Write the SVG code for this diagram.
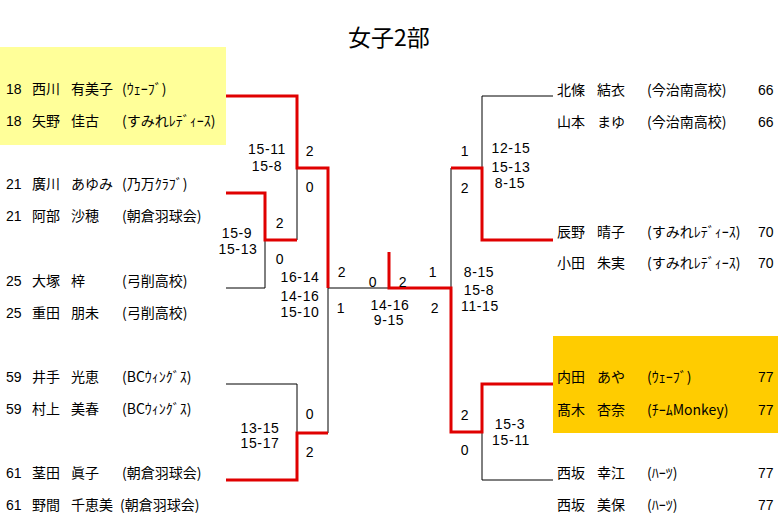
<svg xmlns="http://www.w3.org/2000/svg" width="778" height="529" viewBox="0 0 778 529">
<style>
.t{font-family:"Noto Sans CJK JP","Liberation Sans",sans-serif;font-size:14px;fill:#000}
.n{font-family:"Liberation Sans","Noto Sans CJK JP",sans-serif;font-size:14px;fill:#000}
.s{font-family:"Liberation Sans",sans-serif;font-size:14px;fill:#000;text-anchor:middle;letter-spacing:0.6px}
.title{font-family:"Noto Sans CJK JP","Liberation Sans",sans-serif;font-size:23px;fill:#000;text-anchor:middle}
.b{fill:none;stroke:#000;stroke-width:1}
.r{fill:none;stroke:#E00000;stroke-width:3}
</style>
<rect width="778" height="529" fill="#fff"/>
<rect x="0" y="47" width="226" height="98" fill="#FFFF99"/>
<rect x="553" y="336" width="225" height="97" fill="#FFCC00"/>
<text class="title" x="389" y="46">女子2部</text>

<g id="connectors">
<path class="b" d="M226,288 H265 V240"/>
<path class="b" d="M297,168 V240"/>
<path class="b" d="M226,384 H297 V433"/>
<path class="b" d="M328,288 V433"/>
<path class="b" d="M328,288 H389"/>
<path class="b" d="M553,96 H482 V168"/>
<path class="b" d="M451,168 V288"/>
<path class="b" d="M553,480 H482 V432"/>
<path class="r" d="M226,96 H297 V168 H328 V288"/>
<path class="r" d="M226,193 H265 V240 H297"/>
<path class="r" d="M226,480 H297 V433 H328"/>
<path class="r" d="M389,252 V288 H451 V432 H482 V384 H553"/>
<path class="r" d="M553,240 H482 V168 H451"/>
</g>

<g id="scores">
<text class="s" x="267" y="154">15-11</text>
<text class="s" x="267" y="171">15-8</text>
<text class="s" x="310" y="156">2</text>
<text class="s" x="310" y="192">0</text>
<text class="s" x="280" y="228">2</text>
<text class="s" x="280" y="264">0</text>
<text class="s" x="237" y="238">15-9</text>
<text class="s" x="238" y="254">15-13</text>
<text class="s" x="300" y="282">16-14</text>
<text class="s" x="300" y="301">14-16</text>
<text class="s" x="300" y="317">15-10</text>
<text class="s" x="342" y="277">2</text>
<text class="s" x="341" y="313">1</text>
<text class="s" x="373" y="287">0</text>
<text class="s" x="403" y="287">2</text>
<text class="s" x="390" y="310">14-16</text>
<text class="s" x="389" y="325">9-15</text>
<text class="s" x="433" y="277">1</text>
<text class="s" x="435" y="313">2</text>
<text class="s" x="479" y="277">8-15</text>
<text class="s" x="479" y="295">15-8</text>
<text class="s" x="480" y="311">11-15</text>
<text class="s" x="465" y="156">1</text>
<text class="s" x="465" y="193">2</text>
<text class="s" x="511" y="153">12-15</text>
<text class="s" x="511" y="172">15-13</text>
<text class="s" x="510" y="188">8-15</text>
<text class="s" x="310" y="419">0</text>
<text class="s" x="310" y="457">2</text>
<text class="s" x="260" y="433">13-15</text>
<text class="s" x="260" y="448">15-17</text>
<text class="s" x="465" y="420">2</text>
<text class="s" x="465" y="455">0</text>
<text class="s" x="510" y="429">15-3</text>
<text class="s" x="511" y="445">15-11</text>
</g>

<g id="node-nishikawa-yano">
<text class="t" y="94"><tspan class="n" x="6">18</tspan><tspan x="32">西川</tspan><tspan x="71">有美子</tspan><tspan x="122">(ｳｪｰﾌﾞ)</tspan></text>
<text class="t" y="126"><tspan class="n" x="6">18</tspan><tspan x="32">矢野</tspan><tspan x="71">佳古</tspan><tspan x="122">(すみれﾚﾃﾞｨｰｽ)</tspan></text>
</g>
<g id="node-hirokawa-abe">
<text class="t" y="189"><tspan class="n" x="6">21</tspan><tspan x="32">廣川</tspan><tspan x="71">あゆみ</tspan><tspan x="122">(乃万ｸﾗﾌﾞ)</tspan></text>
<text class="t" y="221"><tspan class="n" x="6">21</tspan><tspan x="32">阿部</tspan><tspan x="71">沙穂</tspan><tspan x="122">(朝倉羽球会)</tspan></text>
</g>
<g id="node-otsuka-shigeta">
<text class="t" y="286"><tspan class="n" x="6">25</tspan><tspan x="32">大塚</tspan><tspan x="71">梓</tspan><tspan x="122">(弓削高校)</tspan></text>
<text class="t" y="318"><tspan class="n" x="6">25</tspan><tspan x="32">重田</tspan><tspan x="71">朋未</tspan><tspan x="122">(弓削高校)</tspan></text>
</g>
<g id="node-ide-murakami">
<text class="t" y="382"><tspan class="n" x="6">59</tspan><tspan x="32">井手</tspan><tspan x="71">光恵</tspan><tspan x="122">(BCｳｨﾝｸﾞｽ)</tspan></text>
<text class="t" y="414"><tspan class="n" x="6">59</tspan><tspan x="32">村上</tspan><tspan x="71">美春</tspan><tspan x="122">(BCｳｨﾝｸﾞｽ)</tspan></text>
</g>
<g id="node-kukita-noma">
<text class="t" y="478"><tspan class="n" x="6">61</tspan><tspan x="32">茎田</tspan><tspan x="71">眞子</tspan><tspan x="122">(朝倉羽球会)</tspan></text>
<text class="t" y="510"><tspan class="n" x="6">61</tspan><tspan x="32">野間</tspan><tspan x="71">千恵美</tspan><tspan x="120">(朝倉羽球会)</tspan></text>
</g>

<g id="node-hojo-yamamoto">
<text class="t" y="95"><tspan x="557">北條</tspan><tspan x="597">結衣</tspan><tspan x="647">(今治南高校)</tspan><tspan class="n" x="758">66</tspan></text>
<text class="t" y="127"><tspan x="557">山本</tspan><tspan x="597">まゆ</tspan><tspan x="647">(今治南高校)</tspan><tspan class="n" x="758">66</tspan></text>
</g>
<g id="node-tatsuno-oda">
<text class="t" y="237"><tspan x="557">辰野</tspan><tspan x="597">晴子</tspan><tspan x="647">(すみれﾚﾃﾞｨｰｽ)</tspan><tspan class="n" x="758">70</tspan></text>
<text class="t" y="268"><tspan x="557">小田</tspan><tspan x="597">朱実</tspan><tspan x="647">(すみれﾚﾃﾞｨｰｽ)</tspan><tspan class="n" x="758">70</tspan></text>
</g>
<g id="node-uchida-takagi">
<text class="t" y="382"><tspan x="557">内田</tspan><tspan x="597">あや</tspan><tspan x="647">(ｳｪｰﾌﾞ)</tspan><tspan class="n" x="758">77</tspan></text>
<text class="t" y="415"><tspan x="557">髙木</tspan><tspan x="597">杏奈</tspan><tspan x="647">(ﾁｰﾑMonkey)</tspan><tspan class="n" x="758">77</tspan></text>
</g>
<g id="node-nishizaka">
<text class="t" y="478"><tspan x="557">西坂</tspan><tspan x="597">幸江</tspan><tspan x="647">(ﾊｰﾂ)</tspan><tspan class="n" x="758">77</tspan></text>
<text class="t" y="510"><tspan x="557">西坂</tspan><tspan x="597">美保</tspan><tspan x="647">(ﾊｰﾂ)</tspan><tspan class="n" x="758">77</tspan></text>
</g>
</svg>
